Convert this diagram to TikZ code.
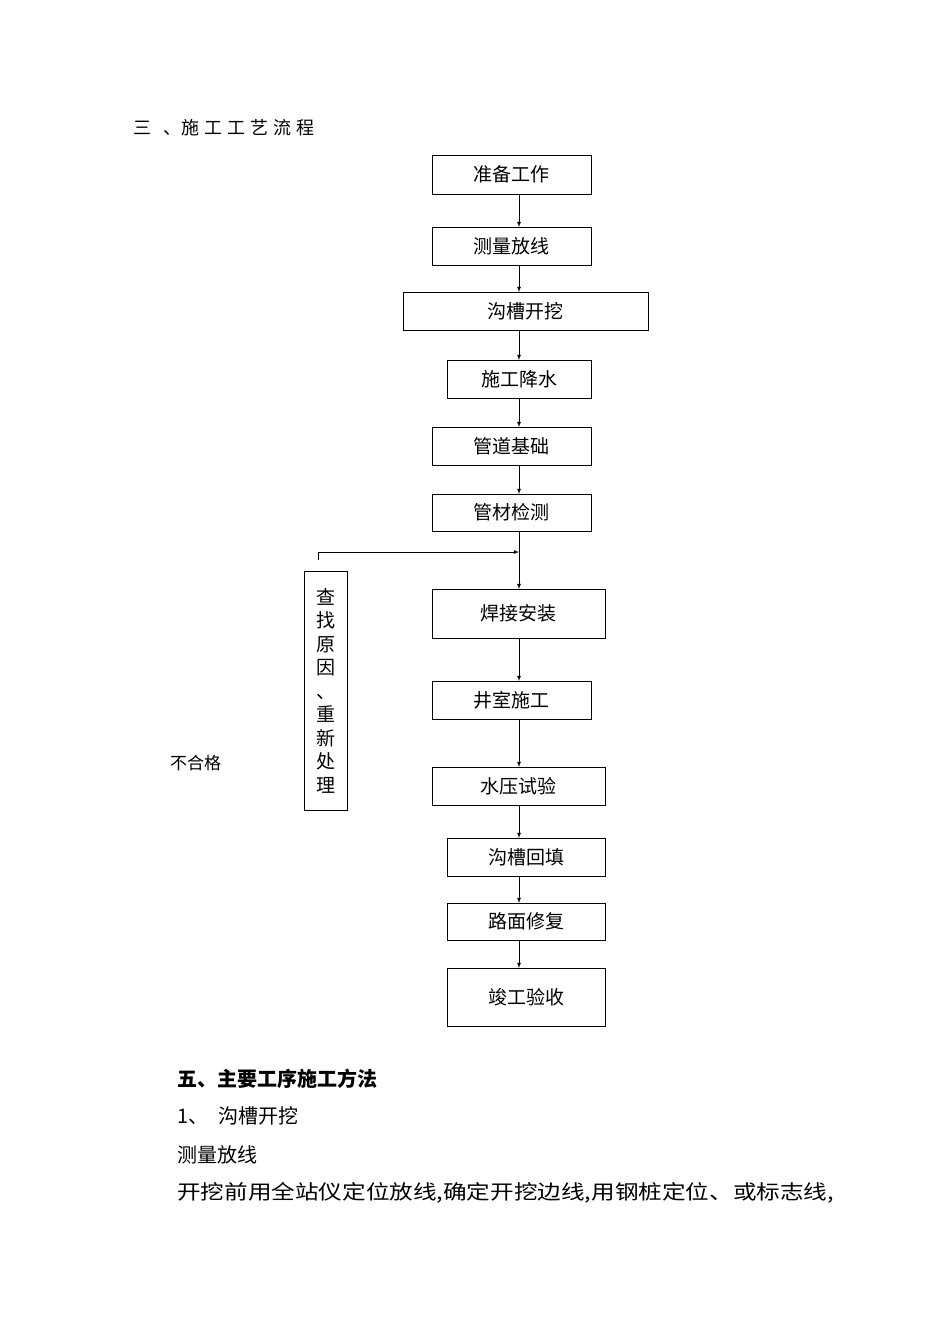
\documentclass[tikz,border=0pt]{standalone}
\usepackage{fontspec}
\usepackage{graphicx}
\setmainfont{Noto Sans CJK SC}
\begin{document}
\begin{tikzpicture}[x=1pt,y=-1pt,
  bx/.style={draw,line width=0.9pt,inner sep=0pt,font=\fontsize{19}{19}\selectfont},
  ar/.style={-latex,line width=0.8pt},
  tx/.style={anchor=west,inner sep=0pt,font=\fontsize{18}{18}\selectfont}]
\useasboundingbox (0,0) rectangle (950,1344);
\def\B#1#2#3#4#5#6{\node[bx,minimum width=#4-#2,minimum height=#5-#3] (#1) at ({(#2+#4)/2},{(#3+#5)/2}) {#6};}
\B{a}{432}{155}{591}{194}{准备工作}
\B{b}{432}{227}{591}{265}{测量放线}
\B{c}{403}{292}{648}{330}{沟槽开挖}
\B{d}{447}{360}{591}{398}{施工降水}
\B{e}{432}{427}{591}{465}{管道基础}
\B{f}{432}{494}{591}{531}{管材检测}
\B{g}{432}{589}{605}{638}{焊接安装}
\B{h}{432}{681}{591}{719}{井室施工}
\B{i}{432}{767}{605}{805}{水压试验}
\B{j}{447}{838}{605}{876}{沟槽回填}
\B{k}{447}{903}{605}{940}{路面修复}
\B{l}{447}{968}{605}{1026}{竣工验收}
\node[bx,minimum width=43,minimum height=239,align=center,font=\fontsize{19}{23.5}\selectfont] (r) at (325.5,690.5) {查\\找\\原\\因\\、\\重\\新\\处\\理};
\draw[ar] (519,194) -- (519,227);
\draw[ar] (519,265) -- (519,292);
\draw[ar] (519,330) -- (519,360);
\draw[ar] (519,398) -- (519,427);
\draw[ar] (519,465) -- (519,494);
\draw[ar] (519,531) -- (519,589);
\draw[ar] (519,638) -- (519,681);
\draw[ar] (519,719) -- (519,767);
\draw[ar] (519,805) -- (519,838);
\draw[ar] (519,876) -- (519,903);
\draw[ar] (519,940) -- (519,968);
\coordinate (q) at (519,552);
\draw[line width=0.8pt] (318,560) -- (318,552);
\draw[ar] (318,552) -- (q);
\node[tx] (t1) at (133,128) {三\hspace{12pt}、施\hspace{5pt}工\hspace{5pt}工\hspace{5pt}艺\hspace{5pt}流\hspace{5pt}程};
\node[tx,font=\fontsize{17}{17}\selectfont] (t2) at (170,763) {不合格};
\node[tx,font=\fontsize{20}{20}\selectfont\bfseries] (t3) at (177,1079) {五、主要工序施工方法};
\node[tx,font=\fontsize{20}{20}\selectfont] (t4) at (177,1116) {1、\enspace 沟槽开挖};
\node[tx,font=\fontsize{20}{20}\selectfont] (t5) at (177,1155) {测量放线};
\node[tx,font=\fontsize{20}{20}\selectfont] (t6) at (177,1193) {\scalebox{1.18}[1]{开挖前用全站仪定位放线,确定开挖边线,用钢桩定位、或标志线,}};
\end{tikzpicture}
\end{document}
